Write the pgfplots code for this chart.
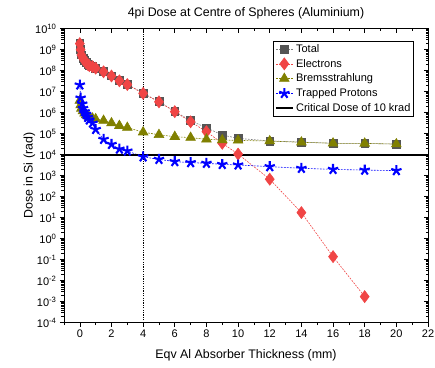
\documentclass[border=0pt]{standalone}
\usepackage{pgfplots}
\pgfplotsset{compat=1.18}
\usepackage{fontspec}
\setmainfont{Liberation Sans}
\definecolor{cTot}{HTML}{555555}
\definecolor{cEle}{HTML}{F04545}
\definecolor{cBre}{HTML}{808000}
\definecolor{cPro}{HTML}{0000FF}
\def\minorlist{}
\foreach \e in {-4,...,9}{\foreach \m in {2,...,9}{\xdef\minorlist{\minorlist\m e\e,}}}
\xdef\minorlist{\minorlist 1e10}
\begin{document}
\begin{tikzpicture}[font=\fontsize{11}{13}\selectfont]
\useasboundingbox (-64pt,-44.3pt) rectangle (371pt,322.7pt);
\begin{axis}[
  width=364pt, height=294pt, scale only axis,
  xmin=-1, xmax=22, ymode=log, ymin=1e-4, ymax=1e10,
  xtick={0,2,...,22}, minor xtick={-1,1,...,21},
  ytickten={-4,-3,...,10},
  minor ytick/.expand once={\minorlist},
  major tick length=4pt, minor tick length=2.5pt,
  every tick/.style={black, line width=0.6pt},
  axis line style={line width=0.8pt},
  tick align=outside, xtick pos=bottom, ytick pos=left,
  tick label style={font=\fontsize{11}{13}\selectfont},
  title={4pi Dose at Centre of Spheres (Aluminium)},
  title style={font=\fontsize{12.4}{14}\selectfont, yshift=0pt},
  xlabel={Eqv Al Absorber Thickness (mm)},
  ylabel={Dose in Si (rad)},
  label style={font=\fontsize{12.4}{14}\selectfont},
  xlabel style={yshift=-5pt},
  ylabel style={yshift=-7pt},
  xticklabel={\pgfmathprintnumber[assume math mode=true]{\tick}},
  yticklabel={10\textsuperscript{\pgfmathparse{int(round(\tick/2.302585))}\pgfmathresult}},
  legend style={at={(0.9615,0.959)}, anchor=north east, draw=black, line width=0.8pt,
    font=\fontsize{11}{12}\selectfont, row sep=1.3pt, inner sep=1.2pt},
  legend cell align=left,
  every axis plot/.append style={dash pattern=on 1.8pt off 1.2pt, line width=0.6pt},
]
% Total
\addplot[cTot!75, mark=square*, mark size=3.9pt,
  mark options={solid, fill=cTot, draw=cTot}] table {
x y
0 1.95e9
0.05 1.0e9
0.1 5.7e8
0.2 4.0e8
0.3 3.05e8
0.4 2.45e8
0.5 2.05e8
0.6 1.78e8
0.8 1.58e8
1.0 1.35e8
1.5 9.0e7
2 5.7e7
2.5 3.35e7
3 2.25e7
4 8.4e6
5 3.35e6
6 1.15e6
7 4.2e5
8 1.9e5
9 8.7e4
10 6.0e4
12 4.5e4
14 4.0e4
16 3.5e4
18 3.45e4
20 3.2e4
};
\addlegendentry{Total}
% Electrons
\addplot[cEle, mark=diamond*, mark size=6pt,
  mark options={solid, fill=cEle, draw=cEle}] table {
x y
0 1.95e9
0.05 1.0e9
0.1 5.6e8
0.2 3.95e8
0.3 3.0e8
0.4 2.4e8
0.5 2.0e8
0.6 1.75e8
0.8 1.55e8
1.0 1.32e8
1.5 8.9e7
2 5.6e7
2.5 3.3e7
3 2.2e7
4 8.3e6
5 3.3e6
6 1.12e6
7 3.7e5
8 1.25e5
9 3.5e4
10 1.07e4
12 6.8e2
14 17.5
16 0.14
18 1.75e-3
};
\addlegendentry{Electrons}
% Bremsstrahlung
\addplot[cBre, mark=triangle*, mark size=5.6pt,
  mark options={solid, fill=cBre, draw=cBre}] table {
x y
0 3.8e6
0.05 2.3e6
0.1 1.6e6
0.2 1.2e6
0.3 9.3e5
0.4 7.8e5
0.5 6.9e5
0.6 6.0e5
0.8 5.4e5
1.0 5.0e5
1.5 4.2e5
2 3.2e5
2.5 2.4e5
3 1.95e5
4 1.18e5
5 8.9e4
6 7.2e4
7 6.5e4
8 5.4e4
9 5.0e4
10 4.8e4
12 4.45e4
14 3.9e4
16 3.5e4
18 3.45e4
20 3.2e4
};
\addlegendentry{Bremsstrahlung}
% Trapped protons
\addplot[cPro, mark=star, mark size=5.4pt,
  mark options={solid, fill=cPro, draw=cPro, line width=2.1pt}] table {
x y
0 2.1e7
0.05 5.0e6
0.15 2.6e6
0.2 1.6e6
0.3 1.12e6
0.4 8.3e5
0.5 6.0e5
0.6 4.5e5
0.8 3.2e5
1.0 1.6e5
1.5 5.4e4
2 3.1e4
2.5 1.85e4
3 1.5e4
4 7.9e3
5 6.0e3
6 4.7e3
7 4.2e3
8 3.9e3
9 3.45e3
10 3.25e3
12 2.7e3
14 2.25e3
16 2.0e3
18 1.85e3
20 1.75e3
};
\addlegendentry{Trapped Protons}
\addplot[black, solid, line width=2.4pt] coordinates {(-1,1e4) (22,1e4)};
\addlegendentry{Critical Dose of 10 krad}
\addplot[black, dash pattern=on 1.2pt off 1.2pt, line width=0.8pt, forget plot] coordinates {(4,1e-4) (4,1e10)};
\end{axis}
\begin{axis}[
  width=364pt, height=294pt, scale only axis,
  xmin=-1, xmax=22, ymode=log, ymin=1e-4, ymax=1e10,
  xtick={0,2,...,22}, minor xtick={-1,1,...,21},
  ytickten={-4,-3,...,10},
  minor ytick/.expand once={\minorlist},
  major tick length=4pt, minor tick length=2.5pt,
  every tick/.style={black, line width=0.6pt},
  tick align=inside, xtick pos=top, ytick pos=right,
  xticklabels={}, yticklabels={}, axis line style={draw=none}]
\addplot[draw=none] coordinates {(0,1)};
\end{axis}
\end{tikzpicture}
\end{document}
